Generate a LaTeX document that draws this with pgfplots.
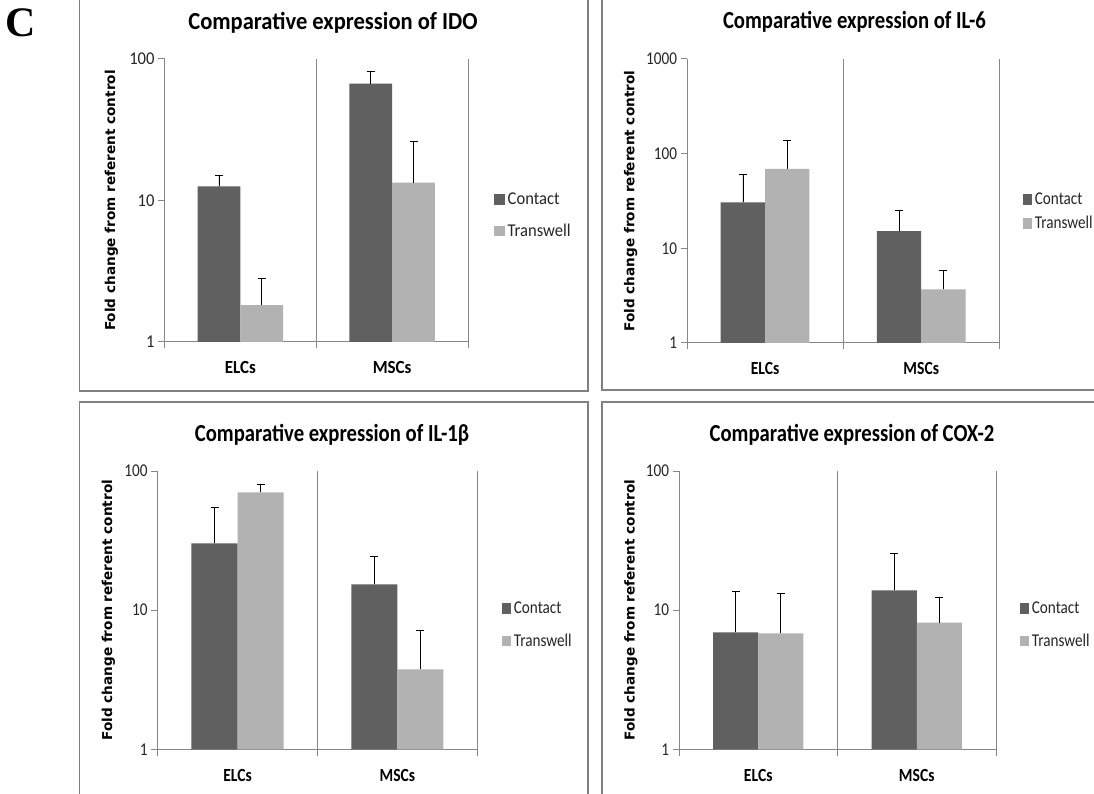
\documentclass[border=0pt]{standalone}
\usepackage{pgfplots}
\pgfplotsset{compat=1.18}
\usepackage{pgfplotstable}
\usepackage{fontspec}
\setmainfont{Carlito}
\newfontfamily\cA[FakeStretch=0.92]{Carlito}
\newfontfamily\cB[FakeStretch=0.845]{Carlito}
\newfontfamily\dv{DejaVu Sans}
\newfontfamily\tms{Liberation Serif}
\def\pfont{\cB}

\definecolor{contactc}{RGB}{96,96,96}
\definecolor{transc}{RGB}{178,178,178}
\definecolor{axc}{RGB}{134,134,134}
\definecolor{framec}{RGB}{128,128,128}

\pgfplotstableread{
x contact contacterr transwell transwellerr
0 12.6 2.47 1.82 0.98
1 66.9 15.0 13.4 12.6
}\idotable
\pgfplotstableread{
x contact contacterr transwell transwellerr
0 30.6 30.4 68.9 69.0
1 15.2 10.2 3.69 2.1
}\ilsixtable
\pgfplotstableread{
x contact contacterr transwell transwellerr
0 30.2 24.6 70.2 9.4
1 15.3 9.2 3.76 3.44
}\ilonetable
\pgfplotstableread{
x contact contacterr transwell transwellerr
0 6.93 6.72 6.81 6.39
1 13.88 11.5 8.12 4.24
}\coxtable

\def\sqw{9.3pt}
\pgfplotsset{
  panel/.style={
    scale only axis, anchor=south west,
    ymin=1,
    xmin=-0.5, xmax=1.5,
    axis x line*=bottom, axis y line*=left,
    axis line style={axc, line width=1pt, -},
    xtick={-0.5,0.5,1.5}, xticklabels={},
    extra x ticks={0,1}, extra x tick labels={ELCs,MSCs},
    extra x tick style={major tick length=0pt, grid=none,
      xticklabel style={anchor=base, yshift=-32pt, font=\pfont\bfseries\fontsize{18.5}{20}\selectfont, text=black}},
    xmajorgrids, major grid style={axc, line width=1pt},
    tick align=outside, major tick length=6.5pt,
    every tick/.style={axc, line width=1pt},
    yminorticks=false,
    yticklabel style={anchor=east, font=\pfont\fontsize{18}{20}\selectfont, text=black!85},
    ybar=0pt,
    clip=false,
    legend cell align=left,
    legend style={draw=none, fill=none, anchor=north west, inner sep=0pt, outer sep=0pt,
      column sep=2.5pt,
      nodes={inner sep=0pt, text height=11pt, text depth=1pt, font=\pfont\fontsize{18}{20}\selectfont, text=black!85}},
    every axis y label/.style={rotate=90, anchor=center, font=\dv\bfseries\fontsize{13.6}{16}\selectfont, text=black},
    ylabel={Fold change from referent control},
  },
  errs/.style={
    error bars/y dir=plus, error bars/y explicit,
    error bars/error bar style={black, line width=0.8pt},
    error bars/error mark options={rotate=90, black, line width=0.8pt, mark size=4pt}},
  cbar/.style={fill=contactc, draw=none, errs,
    /pgfplots/legend image code/.code={\fill[contactc] (0pt,-5.4pt) rectangle (\sqw,5.3pt);}},
  tbar/.style={fill=transc, draw=none, errs,
    /pgfplots/legend image code/.code={\fill[transc] (0pt,-5.4pt) rectangle (\sqw,5.3pt);}},
}

\begin{document}
\begin{tikzpicture}
\useasboundingbox (0,0) rectangle (1094pt,793pt);
\clip (0,0) rectangle (1094pt,793pt);
\fill[white] (0,0) rectangle (1094pt,793pt);

% frames
\draw[framec, line width=1.6pt] (79.4pt,805pt) rectangle (587.7pt,402pt);
\draw[framec, line width=1.6pt] (601.7pt,805pt) rectangle (1110pt,403pt);
\draw[framec, line width=1.6pt] (79.4pt,390.7pt) rectangle (587.7pt,-10pt);
\draw[framec, line width=1.6pt] (601.7pt,390.7pt) rectangle (1110pt,-10pt);

\node[anchor=base west, inner sep=0pt, font=\tms\bfseries\fontsize{42}{44}\selectfont] at (5pt,756pt) {C};

% Panel 1: IDO
\def\pfont{\cA}\def\sqw{10.7pt}
\begin{semilogyaxis}[panel, at={(164.5pt,451pt)}, width=303.5pt, height=283pt,
  ymax=100, ytick={1,10,100}, yticklabels={1,10,100}, bar width=0.282,
  every axis y label/.append style={at={(axis description cs:-0.1746,0.5)}},
  legend style={at={(axis description cs:1.0873,0.5254)}, row sep=19.7pt}]
\addplot[cbar] table[x=x, y=contact, y error=contacterr] {\idotable};
\addplot[tbar] table[x=x, y=transwell, y error=transwellerr] {\idotable};
\legend{Contact,Transwell}
\end{semilogyaxis}

\def\pfont{\cB}\def\sqw{9.3pt}
% Panel 2: IL-6
\begin{semilogyaxis}[panel, at={(687pt,450pt)}, width=312.3pt, height=284pt,
  ymax=1000, ytick={1,10,100,1000}, yticklabels={1,10,100,1000}, bar width=0.284,
  every axis y label/.append style={at={(axis description cs:-0.18,0.5)}},
  legend style={at={(axis description cs:1.0759,0.5271)}, row sep=12.4pt}]
\addplot[cbar] table[x=x, y=contact, y error=contacterr] {\ilsixtable};
\addplot[tbar] table[x=x, y=transwell, y error=transwellerr] {\ilsixtable};
\legend{Contact,Transwell}
\end{semilogyaxis}

% Panel 3: IL-1beta
\begin{semilogyaxis}[panel, at={(157.6pt,43.7pt)}, width=319.7pt, height=278.3pt,
  ymax=100, ytick={1,10,100}, yticklabels={1,10,100}, bar width=0.288,
  every axis y label/.append style={at={(axis description cs:-0.1542,0.5)}},
  legend style={at={(axis description cs:1.0773,0.5282)}, row sep=20.7pt}]
\addplot[cbar] table[x=x, y=contact, y error=contacterr] {\ilonetable};
\addplot[tbar] table[x=x, y=transwell, y error=transwellerr] {\ilonetable};
\legend{Contact,Transwell}
\end{semilogyaxis}

% Panel 4: COX-2
\begin{semilogyaxis}[panel, at={(679pt,43.7pt)}, width=317pt, height=278.3pt,
  ymax=100, ytick={1,10,100}, yticklabels={1,10,100}, bar width=0.284,
  every axis y label/.append style={at={(axis description cs:-0.152,0.5)}},
  legend style={at={(axis description cs:1.0757,0.5282)}, row sep=20.7pt}]
\addplot[cbar] table[x=x, y=contact, y error=contacterr] {\coxtable};
\addplot[tbar] table[x=x, y=transwell, y error=transwellerr] {\coxtable};
\legend{Contact,Transwell}
\end{semilogyaxis}

% titles
\node[anchor=base, inner sep=0pt, font=\cA\bfseries\fontsize{24.5}{28}\selectfont] at (333pt,763pt) {Comparative expression of IDO};
\node[anchor=base, inner sep=0pt, font=\cB\bfseries\fontsize{24.5}{28}\selectfont] at (854.5pt,764pt) {Comparative expression of IL-6};
\node[anchor=base, inner sep=0pt, font=\cB\bfseries\fontsize{24.5}{28}\selectfont] at (332pt,351.3pt) {Comparative expression of IL-1β};
\node[anchor=base, inner sep=0pt, font=\cB\bfseries\fontsize{24.5}{28}\selectfont] at (852pt,351.3pt) {Comparative expression of COX-2};
\end{tikzpicture}
\end{document}
